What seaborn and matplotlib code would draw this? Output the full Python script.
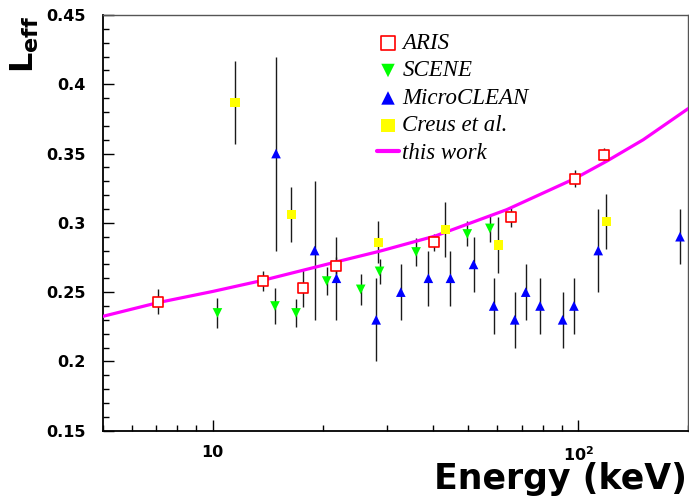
import numpy as np
import pandas as pd
import seaborn as sns
import matplotlib
matplotlib.use("Agg")
import matplotlib.pyplot as plt
from matplotlib.ticker import FixedLocator, FixedFormatter, NullFormatter, LogLocator

# ---------------- data ----------------
aris_x = [7.1, 13.7, 17.7, 21.7, 40.4, 65.4, 97.9, 117.6]
aris_y = [0.243, 0.258, 0.253, 0.269, 0.286, 0.304, 0.332, 0.349]
aris_err = [0.009, 0.007, 0.014, 0.006, 0.006, 0.007, 0.006, 0.005]

scene_x = [10.3, 14.8, 16.9, 20.5, 25.4, 28.6, 36.0, 49.7, 57.3]
scene_y = [0.235, 0.240, 0.235, 0.258, 0.252, 0.265, 0.279, 0.292, 0.296]
scene_err = [0.011, 0.013, 0.010, 0.010, 0.011, 0.009, 0.010, 0.009, 0.010]

micro_x = [14.9, 19.0, 21.8, 28.0, 32.7, 38.9, 44.7, 51.7, 58.7, 67.0, 71.8, 78.6, 90.6, 97.3, 113.4, 189.8]
micro_y = [0.350, 0.280, 0.260, 0.230, 0.250, 0.260, 0.260, 0.270, 0.240, 0.230, 0.250, 0.240, 0.230, 0.240, 0.280, 0.290]
micro_err = [0.07, 0.05, 0.03, 0.03, 0.02, 0.02, 0.02, 0.02, 0.02, 0.02, 0.02, 0.02, 0.02, 0.02, 0.03, 0.02]

creus_x = [11.5, 16.4, 28.4, 43.3, 60.4, 119.3]
creus_y = [0.387, 0.306, 0.286, 0.295, 0.284, 0.301]
creus_err = [0.030, 0.020, 0.015, 0.020, 0.020, 0.020]

fit_x = [5.0, 7.1, 10.0, 13.7, 22.3, 28.6, 40.6, 63.7, 97.9, 119.6, 150.6, 200.0]
fit_y = [0.2325, 0.2425, 0.2505, 0.2585, 0.2725, 0.2795, 0.2905, 0.3095, 0.332, 0.3445, 0.360, 0.3825]

series_labels = ["ARIS", "SCENE", "MicroCLEAN", "Creus et al.", "this work"]
xtick_vals = [10, 100]
xtick_labels = ["10", r"$\mathbf{10^{2}}$"]
ytick_vals = [0.15, 0.2, 0.25, 0.3, 0.35, 0.4, 0.45]
ytick_labels = ["0.15", "0.2", "0.25", "0.3", "0.35", "0.4", "0.45"]

# ---------------- style ----------------
sns.set_style("white")
plt.rcParams["font.family"] = ["DejaVu Sans"]
plt.rcParams["mathtext.fontset"] = "dejavusans"
for k in ["text.color", "axes.labelcolor", "xtick.color", "ytick.color"]:
    plt.rcParams[k] = "black"

W, H = 689, 497
fig = plt.figure(figsize=(W / 100, H / 100), dpi=100)
L, R, T, B = 102.7, 688.3, 15.0, 430.7
ax = fig.add_axes([L / W, 1 - B / H, (R - L) / W, (B - T) / H])

err_kw = dict(fmt="none", ecolor="#1a1a1a", elinewidth=1.0, capsize=0, zorder=2)
for xs, ys, es in [(aris_x, aris_y, aris_err), (scene_x, scene_y, scene_err),
                   (micro_x, micro_y, micro_err), (creus_x, creus_y, creus_err)]:
    ax.errorbar(xs, ys, yerr=es, **err_kw)

sns.lineplot(x=fit_x, y=fit_y, ax=ax, color="#ff00ff", lw=2.3, sort=False,
             estimator=None, zorder=3, label=series_labels[4], legend=False)

h_aris = ax.scatter(aris_x, aris_y, marker="s", s=45, facecolor="white",
                    edgecolor="#ff0000", linewidth=1.2, zorder=5, label=series_labels[0])
sns.scatterplot(x=scene_x, y=scene_y, ax=ax, marker="v", s=48, color="#00ff00",
                edgecolor="none", zorder=5, legend=False)
sns.scatterplot(x=micro_x, y=micro_y, ax=ax, marker="^", s=48, color="#0000ff",
                edgecolor="none", zorder=5, legend=False)
sns.scatterplot(x=creus_x, y=creus_y, ax=ax, marker="s", s=45, color="#ffff00",
                edgecolor="none", zorder=5, legend=False)

ax.set_xscale("log")
ax.set_xlim(5, 200)
ax.set_ylim(0.15, 0.45)

ax.xaxis.set_major_locator(FixedLocator(xtick_vals))
ax.xaxis.set_major_formatter(FixedFormatter(xtick_labels))
ax.xaxis.set_minor_locator(LogLocator(base=10, subs=np.arange(2, 10), numticks=20))
ax.xaxis.set_minor_formatter(NullFormatter())
ax.yaxis.set_major_locator(FixedLocator(ytick_vals))
ax.yaxis.set_major_formatter(FixedFormatter(ytick_labels))
ax.yaxis.set_minor_locator(FixedLocator(np.arange(0.15, 0.4501, 0.01)))

ax.tick_params(which="both", direction="in", top=False, right=False,
               bottom=True, left=True, color="black", width=1.0)
ax.tick_params(which="major", length=8)
ax.tick_params(which="minor", length=4)
ax.tick_params(axis="y", which="major", pad=12, labelsize=11.5, labelcolor="black")
ax.tick_params(axis="x", which="major", pad=10.5, labelsize=11.5, labelcolor="black")
for lbl in ax.get_xticklabels() + ax.get_yticklabels():
    lbl.set_fontweight("bold")

for side in ["left", "bottom"]:
    ax.spines[side].set_color("black")
    ax.spines[side].set_linewidth(1.3)
for side in ["top", "right"]:
    ax.spines[side].set_color("#555555")
    ax.spines[side].set_linewidth(1.0)

ax.set_xlabel("Energy (keV)", fontsize=25, fontweight="bold", ha="right", va="top",
              color="black")
ax.xaxis.set_label_coords((687 - L) / (R - L), -(462.5 - B) / (B - T))
ax.set_ylabel(r"$\mathbf{L_{eff}}$", fontsize=23, color="black")
ax.yaxis.set_label_coords((41 - L) / (R - L), (B - 44) / (B - T))

# legend
hs = ax.collections
handles = [h_aris, hs[-3], hs[-2], hs[-1], ax.lines[0]]
leg = ax.legend(handles, series_labels, loc="upper left",
                bbox_to_anchor=(377 / W, 1 - 33 / H), bbox_transform=fig.transFigure,
                frameon=False, borderpad=0, borderaxespad=0, handlelength=0.96,
                handletextpad=0.15, labelspacing=0.28, scatterpoints=1, markerscale=1.4,
                prop={"family": "Liberation Serif", "style": "italic", "size": 16.5})
for t in leg.get_texts():
    t.set_color("black")
leg.legend_handles[-1].set_linewidth(3.0)

fig.savefig("out.png", dpi=100)
